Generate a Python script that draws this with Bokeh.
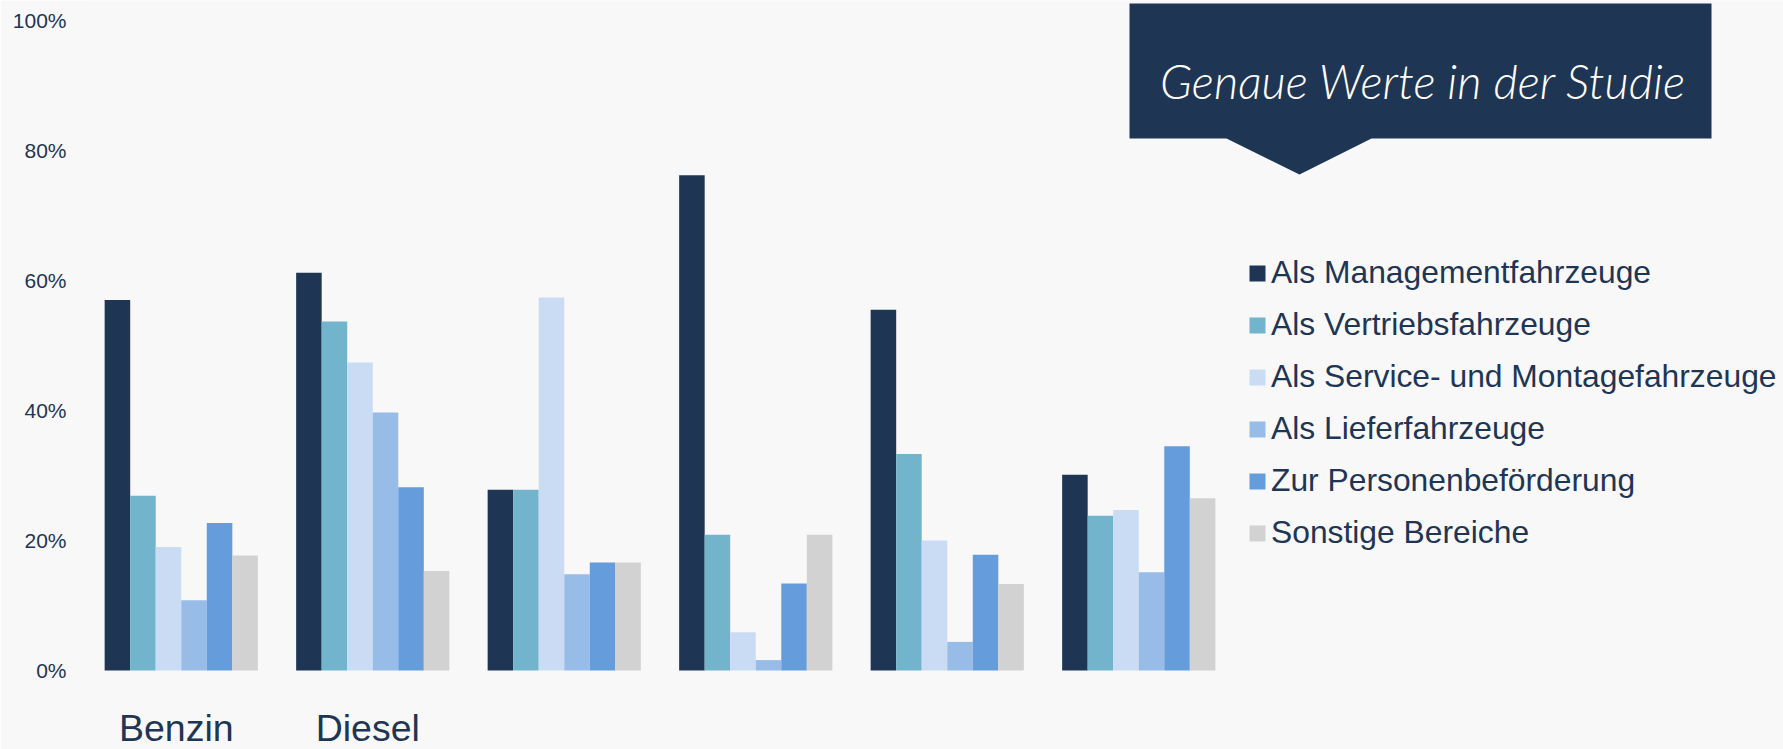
from bokeh.plotting import figure
from bokeh.models import (ColumnDataSource, FixedTicker, Legend, LegendItem,
                          LabelSet, Label, PolyAnnotation, Range1d)
from bokeh.core.properties import value
from bokeh.transform import dodge
from bokeh.embed import file_html
from bokeh.resources import INLINE

# ---- data ----
categories = ["Benzin", "Diesel", "", "", "", ""]
series = ["Als Managementfahrzeuge", "Als Vertriebsfahrzeuge",
          "Als Service- und Montagefahrzeuge", "Als Lieferfahrzeuge",
          "Zur Personenbeförderung", "Sonstige Bereiche"]
management = [57.0, 61.2, 27.8, 76.2, 55.5, 30.1]
vertrieb = [26.9, 53.7, 27.8, 20.9, 33.3, 23.8]
service = [19.0, 47.4, 57.4, 5.9, 20.0, 24.7]
liefer = [10.8, 39.7, 14.8, 1.6, 4.4, 15.1]
personen = [22.7, 28.2, 16.6, 13.4, 17.8, 34.5]
sonstige = [17.7, 15.3, 16.6, 20.9, 13.3, 26.5]
y_ticks = [0, 20, 40, 60, 80, 100]
y_tick_labels = ["0%", "20%", "40%", "60%", "80%", "100%"]
callout_text = "Genaue Werte in der Studie"

colors = ["#1f3554", "#72b4cb", "#cadcf3", "#98bce8", "#659cdc", "#d2d2d2"]
TEXT = "#1f3554"
BG = "#f8f8f8"

# ---- layout (pixels) ----
W, H = 1783, 749
FL = 85                 # frame left (x of group area start)
PITCH = 191.5           # px per category
Y0, Y100 = 670, 20      # px of 0% and 100%
PPU = (Y0 - Y100) / 100.0


def sx(px):
    return (px - FL) / PITCH - 0.5


def sy(py):
    return (Y0 - py) / PPU


src = ColumnDataSource(dict(
    x=list(range(len(categories))), cat=categories,
    s0=management, s1=vertrieb, s2=service, s3=liefer, s4=personen, s5=sonstige))

p = figure(width=W, height=H,
           x_range=Range1d(sx(FL), sx(W)), y_range=Range1d(sy(H), sy(0)),
           output_backend="svg", toolbar_location=None,
           background_fill_color=BG, border_fill_color=BG,
           min_border_left=FL, min_border_right=0,
           min_border_top=0, min_border_bottom=0)
p.outline_line_color = None
p.grid.visible = False
p.xaxis.visible = False

ya = p.yaxis[0]
ya.ticker = FixedTicker(ticks=y_ticks)
ya.major_label_overrides = {t: l for t, l in zip(y_ticks, y_tick_labels)}
ya.axis_line_color = None
ya.major_tick_line_color = None
ya.minor_tick_line_color = None
ya.major_tick_out = 0
ya.major_tick_in = 0
ya.major_label_standoff = 19
ya.major_label_text_font = "Liberation Sans"
ya.major_label_text_font_size = "21px"
ya.major_label_text_color = TEXT

bw = 0.8 / 6
items = []
for k, name in enumerate(series):
    r = p.vbar(x=dodge("x", (k - 2.5) * bw), top="s%d" % k, width=bw,
               source=src, fill_color=colors[k], line_color=None)
    items.append(LegendItem(label=name, renderers=[r]))

legend = Legend(items=items, location=(1247 - FL, H - 551),
                glyph_width=20, glyph_height=20, label_height=20,
                label_standoff=4, spacing=15, padding=0, margin=0,
                border_line_color=None, background_fill_alpha=0,
                label_text_font="Liberation Sans", label_text_font_size="31.8px",
                label_text_color=TEXT)
p.add_layout(legend)

labels = LabelSet(x="x", y=sy(740), text="cat", source=src, x_offset=-5,
                  text_align="center", text_baseline="alphabetic",
                  text_font=value("Liberation Sans"), text_font_size=value("37.5px"),
                  text_color=TEXT)
p.add_layout(labels)

callout = PolyAnnotation(
    xs=[sx(1129), sx(1711), sx(1711), sx(1371), sx(1299), sx(1226), sx(1129)],
    ys=[sy(3), sy(3), sy(138), sy(138), sy(174), sy(138), sy(138)],
    fill_color="#1f3554", fill_alpha=1.0, line_color=None)
p.add_layout(callout)

p.add_layout(Label(x=sx(1423), y=sy(80), text=callout_text,
                   text_align="center", text_baseline="middle",
                   text_font="Lato Light", text_font_style="italic",
                   text_font_size="47px", text_color="white"))

open("out.html", "w").write(file_html(p, INLINE))
